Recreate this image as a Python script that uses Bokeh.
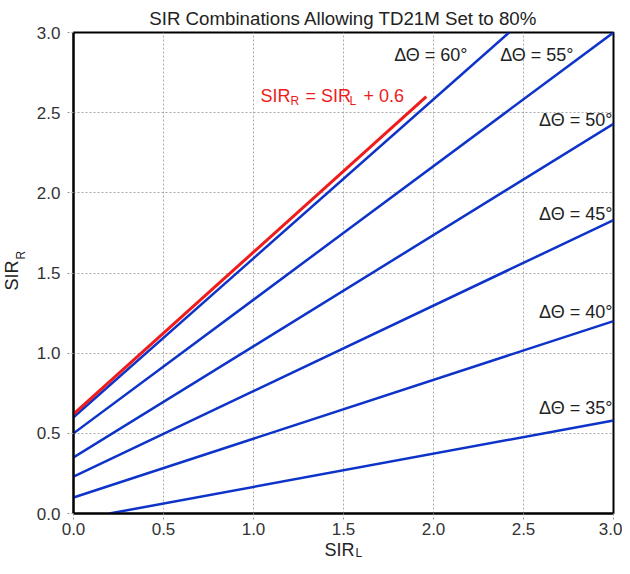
from bokeh.plotting import figure
from bokeh.models import Range1d, ColumnDataSource, FixedTicker, Title
from bokeh.core.properties import value
from bokeh.embed import file_html
from bokeh.resources import INLINE

# data: line end points (SIR_L, SIR_R) for each delta-theta
angles = ["35", "40", "45", "50", "55", "60"]
x_start = [0.2, 0.0, 0.0, 0.0, 0.0, 0.0]
y_start = [0.0, 0.1, 0.23, 0.35, 0.5, 0.6]
x_end = [3.0, 3.0, 3.0, 3.0, 3.0, 2.42]
y_end = [0.58, 1.2, 1.83, 2.43, 3.0, 3.0]
# reference line SIR_R = SIR_L + 0.6
red_x = [0.0, 1.96]
red_y = [0.62, 2.6]

label_text = ["ΔΘ = 35°", "ΔΘ = 40°", "ΔΘ = 45°", "ΔΘ = 50°", "ΔΘ = 55°", "ΔΘ = 60°"]
label_x = [2.994, 2.994, 2.994, 2.994, 2.778, 2.189]
label_y = [0.655, 1.254, 1.871, 2.457, 2.857, 2.857]

ticks = [0.0, 0.5, 1.0, 1.5, 2.0, 2.5, 3.0]
tick_labels = ["0.0", "0.5", "1.0", "1.5", "2.0", "2.5", "3.0"]

FONT = "Liberation Sans"
BLUE = "#0d33c9"
RED = "#ee1c1c"
TXT = "#222222"

p = figure(frame_width=540, frame_height=481, output_backend="svg", toolbar_location=None,
           x_range=Range1d(0, 3), y_range=Range1d(0, 3),
           min_border_left=73, min_border_right=9, min_border_top=32, min_border_bottom=53)

p.title.text = "SIR Combinations Allowing TD21M Set to 80%"
p.title.text_font = FONT
p.title.text_font_size = "18.7px"
p.title.text_font_style = "normal"
p.title.text_color = TXT
p.title.align = "center"
p.title.offset = 2
p.title.standoff = 8

for ax in (p.xaxis[0], p.yaxis[0]):
    ax.ticker = FixedTicker(ticks=ticks)
    ax.major_label_overrides = dict(zip(ticks, tick_labels))
    ax.major_label_text_font = FONT
    ax.major_label_text_font_size = "17px"
    ax.major_label_text_color = "#333333"
    ax.axis_line_color = "black"
    ax.axis_line_width = 2
    ax.major_tick_line_color = "#999999"
    ax.major_tick_line_dash = "2 2"
    ax.major_tick_out = 6
    ax.major_tick_in = 0
    ax.minor_tick_line_color = None
p.xaxis[0].major_label_standoff = 3
p.yaxis[0].major_label_standoff = 7

p.grid.grid_line_color = "#aaaaaa"
p.grid.grid_line_dash = "2 2"
p.grid.grid_line_width = 1
p.xgrid.ticker = FixedTicker(ticks=ticks)
p.ygrid.ticker = FixedTicker(ticks=ticks)
p.outline_line_color = "black"
p.outline_line_width = 2
p.outline_line_alpha = 1.0

src = ColumnDataSource(dict(x0=x_start, y0=y_start, x1=x_end, y1=y_end))
p.segment(x0="x0", y0="y0", x1="x1", y1="y1", source=src, line_color=BLUE, line_width=2.5)
p.line(red_x, red_y, line_color=RED, line_width=3)

lsrc = ColumnDataSource(dict(x=label_x, y=label_y, t=label_text))
p.text(x="x", y="y", text="t", source=lsrc, text_align="right", text_baseline="middle",
       text_font=value(FONT), text_font_size="18px", text_color=TXT)

# red formula label with subscripts
rx, ry = 1.039, 2.607
pieces = [("SIR", 0, 0, "18px"), ("R", 30, 5, "12px"), ("= SIR", 45, 0, "18px"),
          ("L", 89, 5, "12px"), ("+ 0.6", 103, 0, "18px")]
for txt, dx, dy, fs in pieces:
    p.text(x=[rx], y=[ry], text=[txt], x_offset=dx, y_offset=dy, text_align="left",
           text_baseline="middle", text_font=value(FONT), text_font_size=fs, text_color=RED)

# axis labels with subscripts, as side-panel titles
def side_title(text, size, offset, standoff, place, valign="bottom"):
    t = Title(text=text, align="left", offset=offset, standoff=standoff, vertical_align=valign,
              text_font=FONT, text_font_size=size, text_font_style="normal", text_color=TXT)
    p.add_layout(t, place)

side_title("SIR", "18px", 251, 0, "below")
side_title("L", "12px", 282, -27, "below", "top")
side_title("R", "12px", 254, 11, "left")
side_title("SIR", "18px", 223, -30, "left")

open("out.html", "w").write(file_html(p, INLINE))
